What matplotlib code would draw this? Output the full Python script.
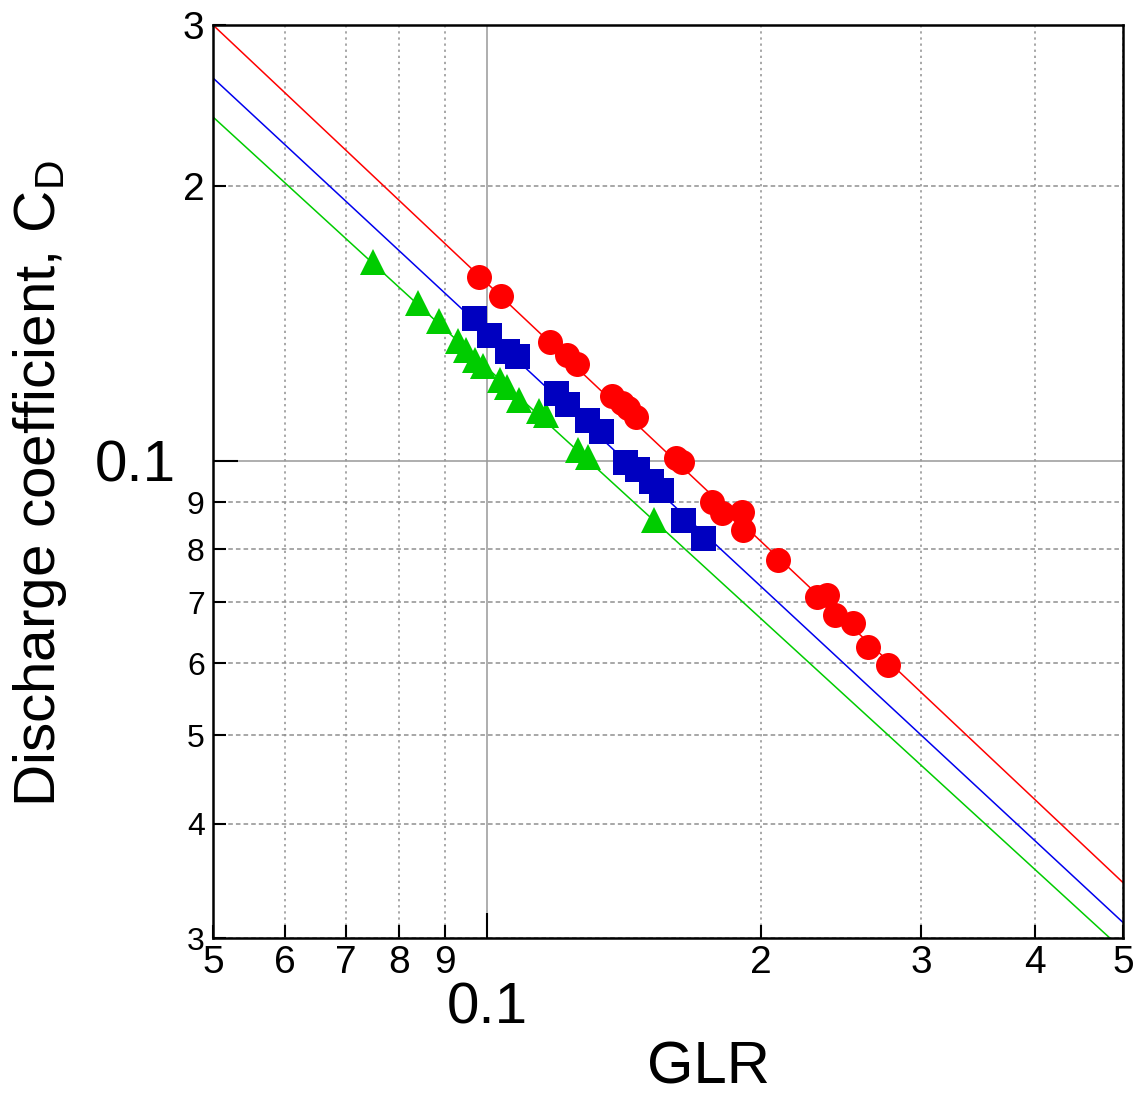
import matplotlib
matplotlib.use('Agg')
import matplotlib.pyplot as plt
from matplotlib.ticker import FixedLocator, FixedFormatter

plt.rcParams['font.family'] = ['Liberation Sans', 'DejaVu Sans']
plt.rcParams['mathtext.fontset'] = 'custom'
plt.rcParams['mathtext.rm'] = 'Liberation Sans'

# measured points (GLR, C_D)
red_glr = [0.0980, 0.1037, 0.1173, 0.1225, 0.1256, 0.1372, 0.1407, 0.1429, 0.1459,
           0.1615, 0.1640, 0.1767, 0.1812, 0.1907, 0.1912, 0.2089, 0.2305, 0.2364,
           0.2413, 0.2526, 0.2623, 0.2759]
red_cd = [0.1589, 0.1515, 0.1349, 0.1305, 0.1276, 0.1177, 0.1156, 0.1142, 0.1116,
          0.1006, 0.0997, 0.0901, 0.0876, 0.0878, 0.0839, 0.0778, 0.0709, 0.0713,
          0.0677, 0.0664, 0.0625, 0.0597]

blue_glr = [0.0968, 0.1005, 0.1052, 0.1079, 0.1191, 0.1225, 0.1288, 0.1334,
            0.1418, 0.1462, 0.1515, 0.1553, 0.1642, 0.1728]
blue_cd = [0.1433, 0.1372, 0.1318, 0.1302, 0.1186, 0.1154, 0.1108, 0.1078,
           0.0997, 0.0979, 0.0950, 0.0929, 0.0861, 0.0823]

green_glr = [0.0749, 0.0840, 0.0886, 0.0929, 0.0948, 0.0970, 0.0990, 0.1034,
             0.1052, 0.1085, 0.1141, 0.1161, 0.1259, 0.1292, 0.1526]
green_cd = [0.1650, 0.1488, 0.1422, 0.1352, 0.1322, 0.1289, 0.1270, 0.1226,
            0.1204, 0.1166, 0.1133, 0.1122, 0.1027, 0.1009, 0.0861]

# fitted lines (end points)
fit_glr = [0.05, 0.5]
red_fit = [0.300, 0.0345]
blue_fit = [0.2625, 0.0312]
green_fit = [0.2379, 0.0291]

x_minor = [0.05, 0.06, 0.07, 0.08, 0.09, 0.2, 0.3, 0.4, 0.5]
x_minor_labels = ['5', '6', '7', '8', '9', '2', '3', '4', '5']
y_minor = [0.03, 0.04, 0.05, 0.06, 0.07, 0.08, 0.09, 0.2, 0.3]
y_minor_labels = ['3', '4', '5', '6', '7', '8', '9', '2', '3']

W, H = 1141, 1104
fig = plt.figure(figsize=(W / 100, H / 100), dpi=100)
ax = fig.add_axes([213 / W, 1 - 938 / H, 910 / W, 913 / H])
ax.set_xscale('log')
ax.set_yscale('log')

ax.plot(fit_glr, red_fit, color='#ff0000', lw=1.1, zorder=3)
ax.plot(fit_glr, blue_fit, color='#0000ee', lw=1.1, zorder=3)
ax.plot(fit_glr, green_fit, color='#00cc00', lw=1.1, zorder=3)

ax.plot(green_glr, green_cd, '^', color='#00cc00', ms=19, mew=0, zorder=4)
ax.plot(blue_glr, blue_cd, 's', color='#0000c0', ms=18, mew=0, zorder=4)
ax.plot(red_glr, red_cd, 'o', color='#ff0000', ms=18, mew=0, zorder=5)

ax.set_xlim(0.05, 0.5)
ax.set_ylim(0.03, 0.3)

ax.xaxis.set_major_locator(FixedLocator([0.1]))
ax.xaxis.set_major_formatter(FixedFormatter(['0.1']))
ax.yaxis.set_major_locator(FixedLocator([0.1]))
ax.yaxis.set_major_formatter(FixedFormatter(['0.1']))
ax.xaxis.set_minor_locator(FixedLocator(x_minor))
ax.xaxis.set_minor_formatter(FixedFormatter(x_minor_labels))
ax.yaxis.set_minor_locator(FixedLocator(y_minor))
ax.yaxis.set_minor_formatter(FixedFormatter(y_minor_labels))

ax.tick_params(which='both', direction='in', top=False, right=False, width=1.5, colors='black')
ax.tick_params(which='major', length=18, labelsize=42)
ax.tick_params(which='minor', length=9.5, labelsize=28)
ax.tick_params(axis='x', which='major', pad=31)
ax.tick_params(axis='x', which='minor', pad=5)
ax.tick_params(axis='y', which='major', pad=27)
ax.tick_params(axis='y', which='minor', pad=6)
# the 4..9 labels on the y axis are drawn a bit smaller
for tick, loc in zip(ax.yaxis.get_minor_ticks(len(y_minor)), y_minor):
    tick.label1.set_fontsize(23 if loc < 0.1 else 28)

ax.grid(which='major', color='#999999', lw=1.1, ls='-')
ax.grid(which='minor', axis='x', color='#909090', lw=1.1, ls=(0, (1.5, 2.5)))
ax.grid(which='minor', axis='y', color='#909090', lw=1.1, ls=(0, (3, 2)))
ax.set_axisbelow(True)

for s in ax.spines.values():
    s.set_linewidth(1.8)
    s.set_zorder(6)

fig.text(40 / W, 1 - 484 / H, 'Discharge coefficient, C$_\\mathrm{D}$', rotation=90,
         ha='center', va='center', fontsize=42)
fig.text(708 / W, 1 - 1068 / H, 'GLR', ha='center', va='center', fontsize=43)

fig.savefig('out.png', dpi=100)
